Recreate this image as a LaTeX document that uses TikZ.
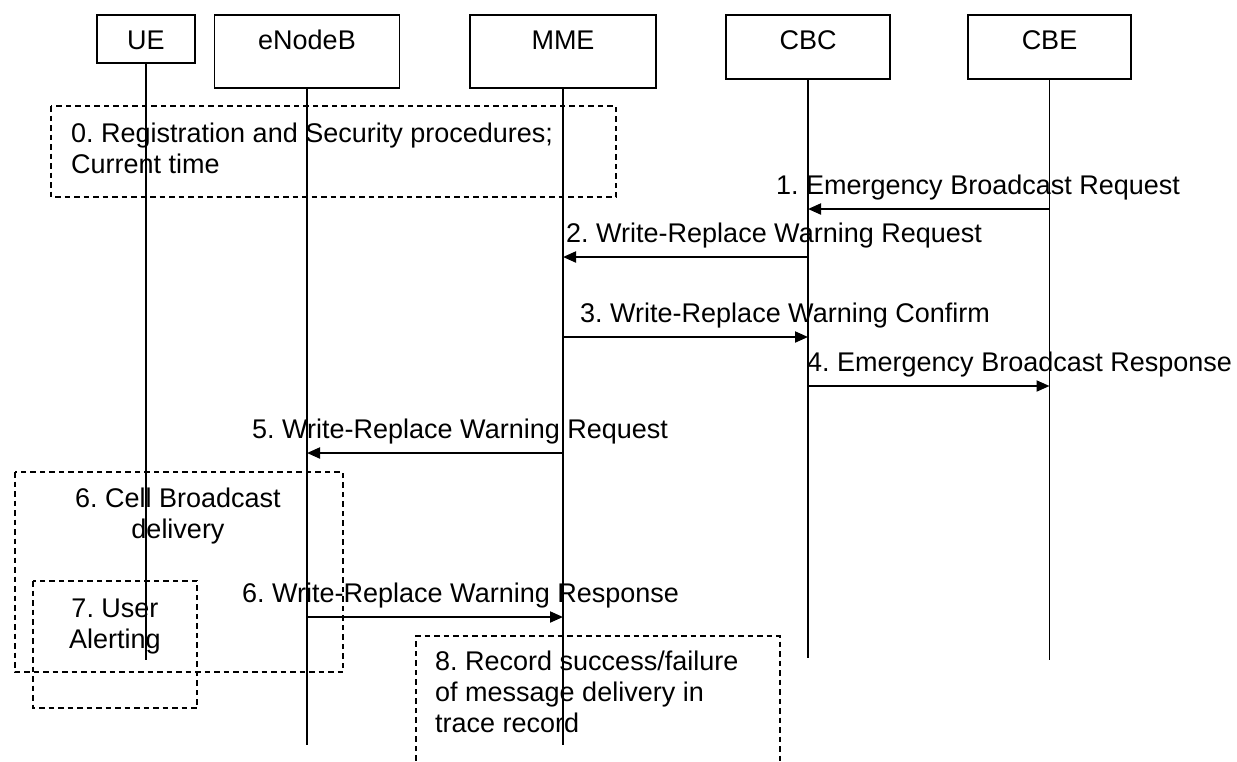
\documentclass[tikz,border=0pt]{standalone}
\usepackage{fontspec}
\setmainfont{Liberation Sans}
\usetikzlibrary{arrows.meta}
\newcommand{\fstrut}{\rule{0pt}{20pt}}
\frenchspacing
\begin{document}
\begin{tikzpicture}[x=1pt,y=-1pt,
  every node/.style={font=\frenchspacing\fontsize{27}{31}\selectfont, inner sep=0pt},
  entity/.style={draw, line width=1.5pt, text height=34pt, minimum height=0pt},
  lifeline/.style={line width=1.2pt},
  msg/.style={line width=2pt, -{Triangle[length=13pt,width=11pt]}},
  msglabel/.style={anchor=base west},
  dbox/.style={draw, line width=1.2pt, dash pattern=on 5.5pt off 4pt}]
\useasboundingbox (0,0) rectangle (1237,761);

% entities
\node[entity, minimum width=98pt, text depth=14pt] (ue) at (146,39) {UE};
\node[entity, minimum width=185pt, text depth=39pt] (enb) at (307,51.5) {eNodeB};
\node[entity, minimum width=186pt, text depth=39pt] (mme) at (563,51.5) {MME};
\node[entity, minimum width=164pt, text depth=30pt] (cbc) at (808,47) {CBC};
\node[entity, minimum width=163pt, text depth=30pt] (cbe) at (1049.5,47) {CBE};

% lifeline ends
\coordinate (ueE) at (ue.south |- 0,660);
\coordinate (enbE) at (enb.south |- 0,745);
\coordinate (mmeE) at (mme.south |- 0,745);
\coordinate (cbcE) at (cbc.south |- 0,658);
\coordinate (cbeE) at (cbe.south |- 0,660);

% dashed boxes
\draw[dbox] (51,106) rectangle (616,197);
\node[anchor=north west, align=left] (t0) at (71,122) {\fstrut0. Registration and Security procedures;\\Current time};

\draw[dbox] (15,472) rectangle (343,672);
\node[anchor=north, align=center] (t6) at (178,487) {\fstrut6. Cell Broadcast\\delivery};

\draw[dbox] (33,581) rectangle (197,708);
\node[anchor=north, align=center] (t7) at (115,597) {\fstrut7. User\\Alerting};

\draw[dbox] (416,770) -- (416,636) -- (780,636) -- (780,770);
\node[anchor=north west, align=left] (t8) at (435,650) {\fstrut8. Record success/failure\\of message delivery in\\trace record};

% lifelines
\draw[lifeline] (ue.south) -- (ueE);
\draw[lifeline] (enb.south) -- (enbE);
\draw[lifeline] (mme.south) -- (mmeE);
\draw[lifeline] (cbc.south) -- (cbcE);
\draw[lifeline] (cbe.south) -- (cbeE);

% messages
\coordinate (y1) at (0,209);
\coordinate (y2) at (0,257);
\coordinate (y3) at (0,337);
\coordinate (y4) at (0,386);
\coordinate (y5) at (0,453);
\coordinate (y6) at (0,617);

\draw[msg] (cbe.south |- y1) -- (cbc.south |- y1);
\node[msglabel] (m1) at (776,194) {1. Emergency Broadcast Request};

\draw[msg] (cbc.south |- y2) -- (mme.south |- y2);
\node[msglabel] (m2) at (566,242) {2. Write-Replace Warning Request};

\draw[msg] (mme.south |- y3) -- (cbc.south |- y3);
\node[msglabel] (m3) at (580,322) {3. Write-Replace Warning Confirm};

\draw[msg] (cbc.south |- y4) -- (cbe.south |- y4);
\node[msglabel] (m4) at (807,371) {4. Emergency Broadcast Response};

\draw[msg] (mme.south |- y5) -- (enb.south |- y5);
\node[msglabel] (m5) at (252,438) {5. Write-Replace Warning Request};

\draw[msg] (enb.south |- y6) -- (mme.south |- y6);
\node[msglabel] (m6) at (242,602) {6. Write-Replace Warning Response};
\end{tikzpicture}
\end{document}
